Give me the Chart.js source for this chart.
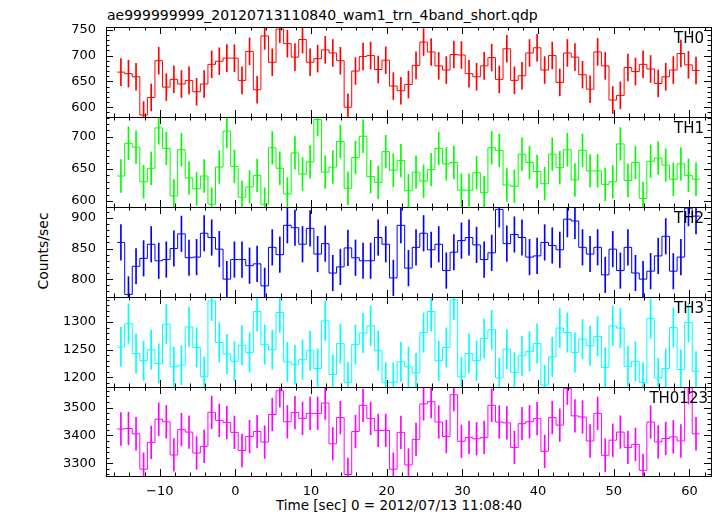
<!DOCTYPE html>
<html>
<head>
<meta charset="utf-8">
<title>wam1 trn 4band</title>
<script src="https://cdn.jsdelivr.net/npm/chart.js@4.4.1/dist/chart.umd.min.js"></script>
<style>
    html, body { margin: 0; padding: 0; background: #fff; }
    #wrap { position: relative; width: 717px; height: 516px; overflow: hidden; font-family: "DejaVu Sans", sans-serif; color: #000; }
    #wrap canvas { position: absolute; left: 0; }
    .txt { position: absolute; white-space: nowrap; line-height: 1; }
    .band { font-size: 15px; text-align: right; }
    #err { position: absolute; left: 120px; top: 60px; color: #c00; font-size: 11px; }
</style>
</head>
<body>
<div id="wrap">
    <div class="txt" style="left:107px; top:8px; font-size:14px;">ae999999999_20120713110840_wam1_trn_4band_short.qdp</div>
    <div class="txt" style="left:43px; top:251px; font-size:14px; transform: translate(-50%, -50%) rotate(-90deg);">Counts/sec</div>
    <div class="txt" style="left:276px; top:499px; font-size:13.5px;">Time [sec] 0 = 2012/07/13 11:08:40</div>
</div>

<script>
// 1 s bins, centre of the first bin (sec from 11:08:40)
const binStart = -15.13;
const binWidth = 1;

const th0 = [668, 665, 659, 585, 619, 690, 639, 654, 645, 652, 630, 645, 683, 689, 695, 695, 652, 708, 634, 738,
    687, 751, 723, 697, 731, 687, 694, 711, 705, 690, 600, 670, 698, 700, 673, 691, 641, 632, 644, 681,
    726, 707, 680, 672, 702, 701, 665, 659, 680, 696, 654, 713, 652, 661, 705, 715, 672, 700, 648, 705,
    697, 663, 635, 707, 680, 614, 623, 677, 669, 683, 674, 646, 659, 672, 704, 682, 671];
const th1 = [639, 690, 684, 630, 651, 714, 682, 608, 680, 636, 619, 639, 595, 653, 709, 654, 606, 622, 640, 595,
    683, 651, 611, 675, 642, 661, 727, 645, 653, 693, 620, 668, 701, 638, 629, 677, 648, 663, 616, 645,
    631, 649, 682, 658, 660, 617, 617, 644, 613, 683, 679, 625, 623, 673, 660, 646, 627, 673, 652, 680,
    633, 679, 647, 647, 626, 630, 689, 632, 660, 604, 662, 667, 656, 634, 658, 640, 634];
const th2 = [860, 775, 821, 834, 857, 830, 832, 850, 874, 835, 836, 875, 868, 849, 800, 832, 832, 822, 825, 789,
    852, 840, 888, 884, 857, 883, 841, 858, 810, 820, 851, 835, 830, 830, 868, 857, 802, 888, 818, 852,
    875, 848, 857, 814, 844, 863, 868, 856, 832, 843, 914, 858, 873, 868, 836, 838, 860, 855, 848, 898,
    895, 852, 841, 852, 807, 849, 814, 852, 810, 800, 813, 838, 870, 813, 836, 916, 903];
const th3 = [1255, 1297, 1243, 1230, 1250, 1225, 1296, 1219, 1222, 1291, 1254, 1201, 1338, 1263, 1242, 1229, 1258, 1245, 1319, 1259,
    1250, 1317, 1228, 1223, 1232, 1248, 1216, 1302, 1205, 1261, 1191, 1259, 1280, 1293, 1248, 1191, 1191, 1228, 1219, 1208,
    1281, 1319, 1230, 1254, 1340, 1201, 1243, 1230, 1270, 1286, 1199, 1251, 1209, 1239, 1247, 1261, 1186, 1237, 1289, 1281,
    1245, 1269, 1257, 1274, 1218, 1293, 1289, 1220, 1229, 1191, 1306, 1199, 1216, 1290, 1214, 1299, 1211];
const th0123 = [3423, 3425, 3406, 3279, 3375, 3458, 3449, 3330, 3421, 3412, 3337, 3361, 3483, 3454, 3446, 3411, 3346, 3396, 3414, 3376,
    3475, 3560, 3449, 3482, 3461, 3479, 3479, 3516, 3370, 3464, 3260, 3414, 3508, 3461, 3418, 3418, 3279, 3411, 3294, 3386,
    3513, 3521, 3448, 3396, 3546, 3379, 3393, 3388, 3393, 3508, 3448, 3445, 3357, 3442, 3449, 3460, 3343, 3464, 3437, 3569,
    3470, 3466, 3380, 3479, 3329, 3383, 3412, 3357, 3368, 3275, 3448, 3377, 3389, 3395, 3380, 3571, 3406];

const bands = ['TH0', 'TH1', 'TH2', 'TH3', 'TH0123'];
const series = [th0, th1, th2, th3, th0123];
const errors = [26, 25.5, 29, 35.5, 58.5];       // 1-sigma half length of the error bars
const colors = ['#ff0000', '#00ff00', '#0000ff', '#00ffff', '#ff00ff'];

const yMins = [581.2, 590.7, 770.8, 1182.5, 3254.6];
const yMaxs = [755.2, 731, 917.9, 1345.2, 3573.6];
const yMajor = [50, 50, 50, 50, 100];
const yMinor = [10, 10, 10, 10, 20];
const xMin = -17.1, xMax = 62.85;
const xTicks = [-10, 0, 10, 20, 30, 40, 50, 60];
const xMinor = 2;

Chart.defaults.font.family = "'DejaVu Sans', sans-serif";
Chart.defaults.color = '#000';

function showError(e) {
    var d = document.getElementById('err') || document.createElement('div');
    d.id = 'err';
    d.textContent = String(e && e.stack || e);
    document.getElementById('wrap').appendChild(d);
}

// major ticks of a panel, multiples of the step inside the axis range
function majorTicks(scale, step) {
    var list = [];
    for (var v = Math.ceil(scale.min / step) * step; v <= scale.max; v += step) {
        list.push({ value: v });
    }
    return list;
}

// PLT style frame: box plus inward ticks on all four sides
const framePlugin = {
    id: 'pltFrame',
    afterDraw: function(chart) {
        try {
            var o = chart.options.plugins.pltFrame;
            var ctx = chart.ctx;
            var a = chart.chartArea;
            var x = chart.scales.x;
            var y = chart.scales.y;
            ctx.save();
            ctx.strokeStyle = '#000';
            ctx.lineWidth = 1;
            ctx.beginPath();
            for (var v = Math.ceil(x.min / xMinor) * xMinor; v <= x.max; v += xMinor) {
                var px = Math.round(x.getPixelForValue(v)) + 0.5;
                var len = (xTicks.indexOf(v) >= 0) ? 7 : 3.5;
                ctx.moveTo(px, a.bottom); ctx.lineTo(px, a.bottom - len);
                ctx.moveTo(px, a.top); ctx.lineTo(px, a.top + len);
            }
            for (var w = Math.ceil(y.min / o.minor) * o.minor; w <= y.max; w += o.minor) {
                var py = Math.round(y.getPixelForValue(w)) + 0.5;
                var len2 = (w % o.major === 0) ? 7 : 3.5;
                ctx.moveTo(a.left, py); ctx.lineTo(a.left + len2, py);
                ctx.moveTo(a.right, py); ctx.lineTo(a.right - len2, py);
            }
            ctx.stroke();
            ctx.strokeRect(Math.round(a.left) + 0.5, Math.round(a.top) + 0.5, Math.round(a.width), Math.round(a.height));
            ctx.restore();
        } catch (e) {
            showError(e);
        }
    }
};

var wrap = document.getElementById('wrap');
var panelTop = 27, panelH = 90, padTop = 12, xAxisH = 28;

try {
series.forEach(function(values, i) {
    var last = (i === series.length - 1);
    var top = panelTop + panelH * i;
    var h = last ? 89 : panelH;

    var canvas = document.createElement('canvas');
    canvas.width = 717;
    canvas.height = padTop + h + (last ? xAxisH : padTop);
    canvas.style.top = (top - padTop) + 'px';
    wrap.appendChild(canvas);

    var label = document.createElement('div');
    label.className = 'txt band';
    label.style.right = (last ? 9 : 13) + 'px';
    label.style.top = (top + 3.5) + 'px';
    label.textContent = bands[i];
    wrap.appendChild(label);

    // histogram outline: one point per left bin edge, plus the right edge of the last bin
    var steps = values.map(function(v, k) {
        return { x: binStart - binWidth / 2 + k * binWidth, y: v };
    });
    steps.push({ x: binStart + binWidth / 2 + (values.length - 1) * binWidth, y: values[values.length - 1] });

    var bars = values.map(function(v, k) {
        return { x: binStart + k * binWidth, y: [v - errors[i], v + errors[i]] };
    });

    new Chart(canvas, {
        type: 'line',
        data: {
            datasets: [{
                type: 'line',
                label: bands[i],
                data: steps,
                stepped: true,
                borderColor: colors[i],
                borderWidth: 1,
                pointRadius: 0,
                fill: false
            }, {
                type: 'bar',
                label: bands[i] + ' err',
                data: bars,
                backgroundColor: colors[i],
                borderWidth: 0,
                barThickness: 1
            }]
        },
        options: {
            responsive: false,
            animation: false,
            events: [],
            layout: { padding: { top: padTop, bottom: last ? 0 : padTop, left: 0, right: 6 } },
            plugins: {
                legend: { display: false },
                tooltip: { enabled: false },
                pltFrame: { major: yMajor[i], minor: yMinor[i] }
            },
            scales: {
                x: {
                    type: 'linear',
                    min: xMin,
                    max: xMax,
                    offset: false,
                    display: last,
                    grid: { display: false, drawTicks: false },
                    border: { display: false },
                    ticks: {
                        autoSkip: false,
                        maxRotation: 0,
                        padding: 8,
                        font: { size: 13 },
                        callback: function(v) { return String(v).replace('-', '\u2212'); }
                    },
                    afterBuildTicks: function(s) {
                        s.ticks = xTicks.map(function(v) { return { value: v }; });
                    },
                    afterFit: function(s) {
                        s.height = last ? xAxisH : 0;
                        s.paddingLeft = 0;
                        s.paddingRight = 0;
                    }
                },
                y: {
                    type: 'linear',
                    min: yMins[i],
                    max: yMaxs[i],
                    grid: { display: false, drawTicks: false },
                    border: { display: false },
                    ticks: {
                        autoSkip: false,
                        padding: 10,
                        font: { size: 13 },
                        callback: function(v) { return String(v); }
                    },
                    afterBuildTicks: function(s) {
                        s.ticks = majorTicks(s, yMajor[i]);
                    },
                    afterFit: function(s) {
                        s.width = 106;
                        s.paddingTop = 0;
                        s.paddingBottom = 0;
                    }
                }
            }
        },
        plugins: [framePlugin]
    });
});
} catch (e) {
    showError(e);
}
</script>
</body>
</html>
